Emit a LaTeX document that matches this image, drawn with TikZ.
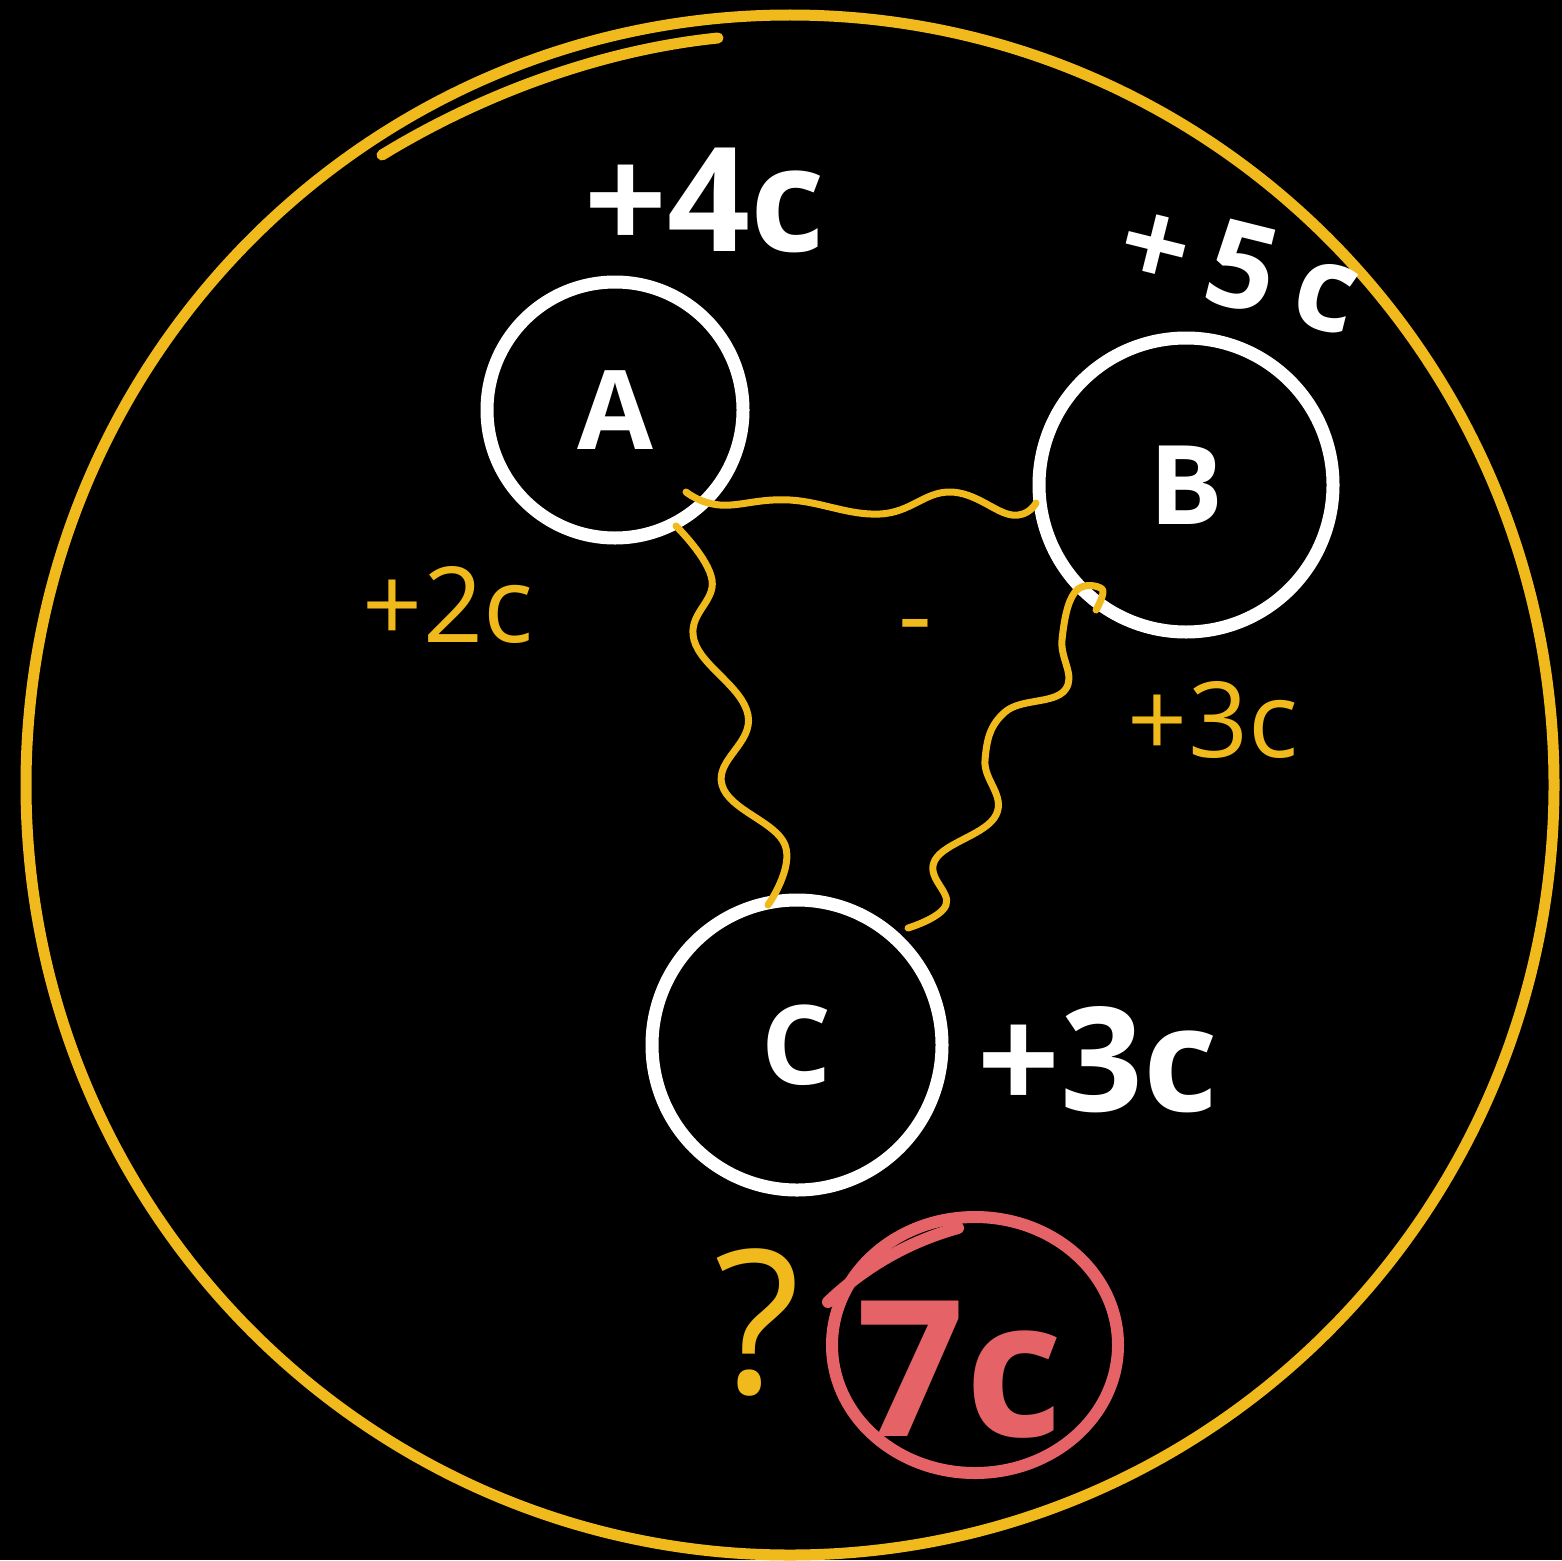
\documentclass[tikz,border=0pt]{standalone}
\usepackage{fontspec}
\setmainfont{Open Sans}
\definecolor{gold}{HTML}{F0B91C}
\definecolor{rose}{HTML}{E56366}
\begin{document}
\begin{tikzpicture}[x=1pt,y=-1pt,
  ball/.style={circle,draw=white,line width=13pt,inner sep=0pt,text=white,font=\bfseries\fontsize{110}{110}\selectfont},
  wire/.style={draw=gold,line width=7pt,line cap=round,line join=round},
  bigtxt/.style={text=white,font=\bfseries\fontsize{145}{145}\selectfont,inner sep=0pt},
  smalltxt/.style={text=gold,font=\fontsize{105}{105}\selectfont,inner sep=0pt}]
\useasboundingbox (0,0) rectangle (1562,1560);
\fill[black] (0,0) rectangle (1562,1560);
% outer yellow loop
\draw[gold,line width=11pt] (790,785) ellipse [x radius=764pt, y radius=770pt];
\draw[gold,line width=11pt,line cap=round] (382,155) .. controls (480,95) and (600,50) .. (718,38);
% nodes
\node[ball,minimum size=256pt] (A) at (615,410) {A};
\node[ball,minimum size=294pt] (B) at (1186,485) {B};
\node[ball,minimum size=290pt] (C) at (797,1045) {C};
% wavy connectors
\draw[wire] plot[smooth,tension=0.7] coordinates {(686,492) (720,505) (790,500) (880,514) (950,492) (1012,515) (1036,503)};
\draw[wire] plot[smooth,tension=0.7] coordinates {(676,526) (712,580) (694,640) (748,715) (722,785) (785,845) (768,905)};
\draw[wire] plot[smooth,tension=0.7] coordinates {(1096,610) (1102,589) (1075,592) (1062,640) (1065,690) (1005,712) (985,760) (996,815) (935,860) (946,905) (908,928)};
% labels
\node[bigtxt] (l4) at (705,200) {+4c};
\node[bigtxt,rotate=-14,font=\bfseries\fontsize{120}{120}\selectfont] (l5) at (1240,266) {+\hspace{22pt}5\hspace{22pt}c};
\node[bigtxt] (l3w) at (1098,1060) {+3c};
\node[smalltxt] (l2) at (448,605) {+2c};
\node[smalltxt] (l3y) at (1213,720) {+3c};
\node[smalltxt] (lm) at (915,635) {-};
\node[text=gold,font=\fontsize{200}{200}\selectfont,inner sep=0pt] (q) at (757,1322) {?};
% answer
\draw[rose,line width=12pt] (975,1345) ellipse [x radius=143pt, y radius=128pt];
\draw[rose,line width=12pt,line cap=round] (828,1302) .. controls (870,1262) and (915,1240) .. (958,1228);
\node[text=rose,font=\bfseries\fontsize{190}{190}\selectfont,inner sep=0pt] (ans) at (960,1370) {7c};
\end{tikzpicture}
\end{document}
